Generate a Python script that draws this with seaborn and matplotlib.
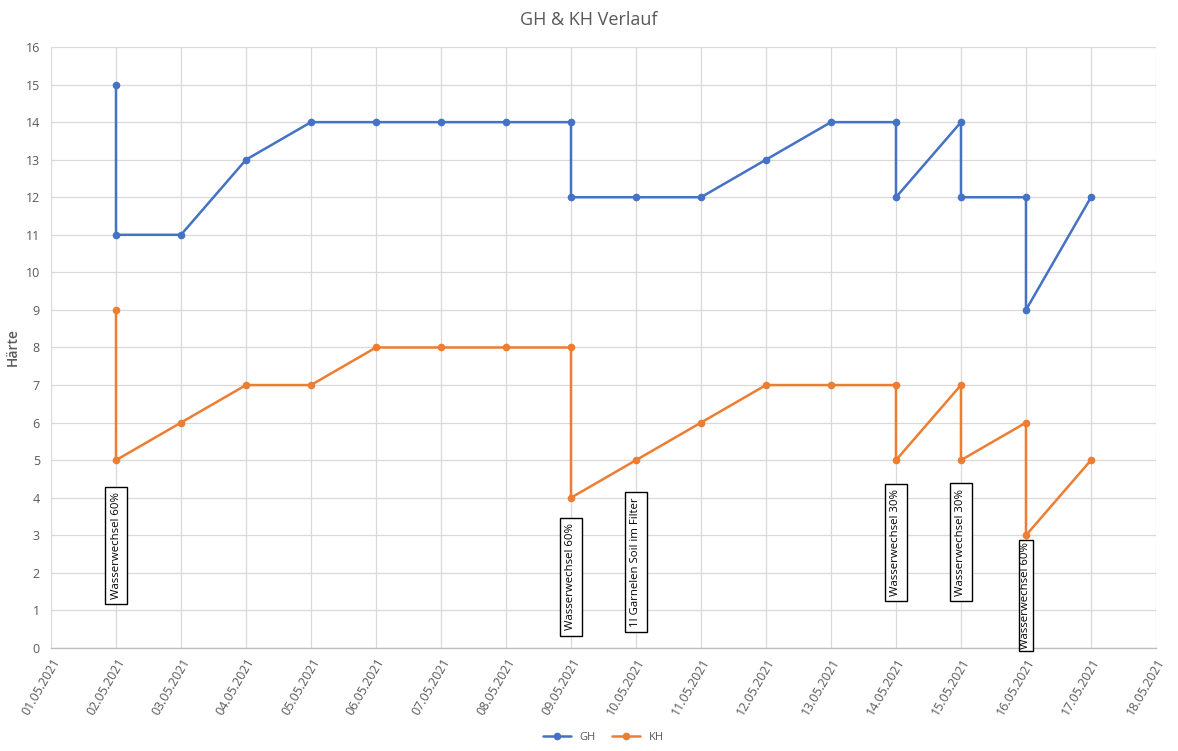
import matplotlib
matplotlib.use("Agg")
import matplotlib.pyplot as plt
import matplotlib.dates as mdates
import seaborn as sns
import pandas as pd

gh_dates = ["2021-05-02", "2021-05-02", "2021-05-03", "2021-05-04", "2021-05-05", "2021-05-06",
            "2021-05-07", "2021-05-08", "2021-05-09", "2021-05-09", "2021-05-10", "2021-05-11",
            "2021-05-12", "2021-05-13", "2021-05-14", "2021-05-14", "2021-05-15", "2021-05-15",
            "2021-05-16", "2021-05-16", "2021-05-17"]
gh_values = [15, 11, 11, 13, 14, 14, 14, 14, 14, 12, 12, 12, 13, 14, 14, 12, 14, 12, 12, 9, 12]
kh_dates = gh_dates
kh_values = [9, 5, 6, 7, 7, 8, 8, 8, 8, 4, 5, 6, 7, 7, 7, 5, 7, 5, 6, 3, 5]

note_dates = ["2021-05-02", "2021-05-09", "2021-05-10", "2021-05-14", "2021-05-15", "2021-05-16"]
note_texts = ["Wasserwechsel 60%", "Wasserwechsel 60%", "1l Garnelen Soil im Filter",
              "Wasserwechsel 30%", "Wasserwechsel 30%", "Wasserwechsel 60%"]
note_y = [2.72, 1.89, 2.29, 2.8, 2.82, 1.40]
note_pad = [0.45, 0.45, 0.45, 0.45, 0.45, 0.15]

df = pd.concat([
    pd.DataFrame({"Datum": pd.to_datetime(gh_dates), "Härte": gh_values, "Serie": "GH"}),
    pd.DataFrame({"Datum": pd.to_datetime(kh_dates), "Härte": kh_values, "Serie": "KH"}),
], ignore_index=True)

sns.set_theme(style="white")
plt.rcParams["font.family"] = ["Open Sans", "DejaVu Sans"]

fig = plt.figure(figsize=(11.78, 7.51), dpi=100)
ax = fig.add_axes([0.0433, 0.1372, 0.938, 0.8002])

palette = {"GH": "#4472C4", "KH": "#ED7D31"}
sns.lineplot(data=df, x="Datum", y="Härte", hue="Serie", palette=palette,
             estimator=None, sort=False, marker="o", markersize=5.5,
             markeredgewidth=0, linewidth=1.8, ax=ax, legend=True, zorder=3)

ax.set_xlim(pd.Timestamp("2021-05-01"), pd.Timestamp("2021-05-18"))
ax.set_ylim(0, 16)
ax.set_yticks(range(0, 17))
ax.xaxis.set_major_locator(mdates.DayLocator())
ax.xaxis.set_major_formatter(mdates.DateFormatter("%d.%m.%Y"))
for lab in ax.get_xticklabels():
    lab.set_rotation(60)
    lab.set_ha("right")
    lab.set_rotation_mode("anchor")
ax.tick_params(axis="x", labelsize=9, colors="#595959", length=0, pad=6)
ax.tick_params(axis="y", labelsize=9, colors="#595959", length=0, pad=8)
ax.grid(True, color="#D9D9D9", linewidth=0.9)
ax.set_axisbelow(True)
for s in ["top", "right", "left"]:
    ax.spines[s].set_visible(False)
ax.spines["bottom"].set_color("#BFBFBF")
ax.spines["bottom"].set_linewidth(1)

ax.set_xlabel("")
ax.set_ylabel("Härte", fontsize=10, color="#595959", fontweight="semibold", labelpad=4)

for d, t, y, p in zip(note_dates, note_texts, note_y, note_pad):
    ax.text(pd.Timestamp(d), y, t, rotation=90, ha="center", va="center",
            fontsize=8.2, color="black", zorder=4,
            bbox=dict(boxstyle=f"square,pad={p}", fc="white", ec="black", lw=1))

fig.suptitle("GH & KH Verlauf", y=0.985, fontsize=13, color="#595959")

handles, labels = ax.get_legend_handles_labels()
ax.legend(handles, labels, loc="lower center", bbox_to_anchor=(0.5, -0.175),
          ncol=2, frameon=False, fontsize=8, handlelength=2.5, columnspacing=1.5,
          labelcolor="#595959")

fig.savefig("out.png", dpi=100)
